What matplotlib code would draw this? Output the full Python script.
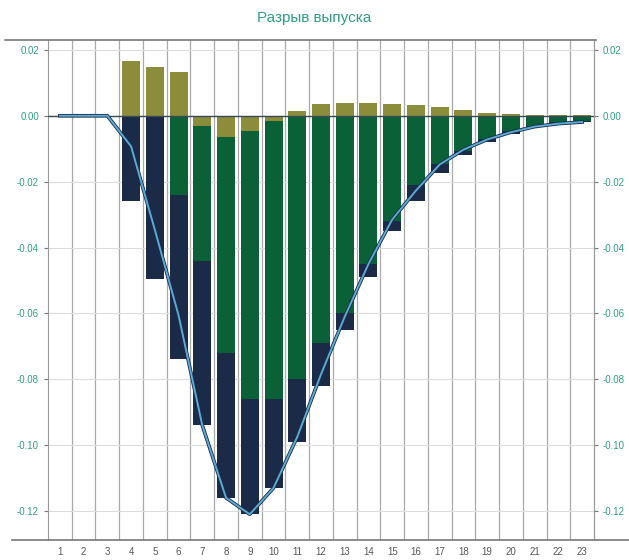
import matplotlib
matplotlib.use("Agg")
import matplotlib.pyplot as plt
import matplotlib.patheffects as pe
import numpy as np

# периоды
periods = list(range(1, 24))
# составляющие разрыва выпуска
comp_olive = [0, 0, 0, 0.0167, 0.0149, 0.0134, -0.003, -0.0065, -0.0045, -0.0015, 0.0015,
              0.0035, 0.004, 0.004, 0.0035, 0.0033, 0.0027, 0.0017, 0.0008, 0.0005, 0.0002, 0.0001, 0.0001]
comp_green = [0, 0, 0, 0, 0, -0.024, -0.041, -0.0655, -0.0815, -0.0845, -0.080,
              -0.069, -0.060, -0.045, -0.032, -0.021, -0.0145, -0.0107, -0.007, -0.0045, -0.003, -0.002, -0.0015]
comp_navy = [0, 0, 0, -0.026, -0.0495, -0.050, -0.050, -0.044, -0.035, -0.027, -0.019,
             -0.013, -0.005, -0.004, -0.003, -0.005, -0.003, -0.0013, -0.001, -0.001, -0.0005, -0.0005, -0.0005]
yticks = [0.02, 0.00, -0.02, -0.04, -0.06, -0.08, -0.10, -0.12]

c_olive = '#8b8d3a'
c_green = '#0b6137'
c_navy = '#1b2a47'
c_line = '#5aaad6'
c_text = '#2f9e84'

plt.rcParams['font.family'] = ['Liberation Sans', 'DejaVu Sans']

fig = plt.figure(figsize=(6.29, 5.6), dpi=100)
ax = fig.add_axes([48/629, 20/560, 546/629, 500/560])

x = np.array(periods)
pos_bottom = np.zeros(len(x))
neg_bottom = np.zeros(len(x))
for vals, col in [(comp_olive, c_olive), (comp_green, c_green), (comp_navy, c_navy)]:
    v = np.array(vals)
    bottom = np.where(v >= 0, pos_bottom, neg_bottom)
    ax.bar(x, v, bottom=bottom, width=0.76, color=col, edgecolor='none', zorder=3)
    pos_bottom += np.where(v >= 0, v, 0)
    neg_bottom += np.where(v < 0, v, 0)

total = np.array(comp_olive) + np.array(comp_green) + np.array(comp_navy)
ax.plot(x, total, color=c_line, lw=1.4, zorder=5,
        path_effects=[pe.Stroke(linewidth=2.6, foreground=c_navy), pe.Normal()])

ax.axhline(0, color='#3a4a55', lw=1.0, zorder=4)

ax.set_xlim(0.5, 23.5)
ax.set_ylim(-0.1288, 0.023)
ax.set_yticks(yticks)
ax.set_yticklabels(['%.2f' % t for t in yticks])
ax.set_xticks(x)
ax.set_xticks(np.arange(1.5, 23.5, 1), minor=True)
ax.grid(True, axis='x', which='minor', color='#a8a8a8', lw=0.9, zorder=1)
ax.grid(True, axis='y', which='major', color='#dcdcdc', lw=0.8, zorder=1)
ax.tick_params(axis='x', which='both', length=0, labelsize=7, colors='#555555', pad=5)
ax.tick_params(axis='y', length=3, labelsize=7, colors='#777777', labelcolor=c_text, direction='out')
for s in ['top', 'bottom']:
    ax.spines[s].set_visible(False)
for s in ['left', 'right']:
    ax.spines[s].set_color('#999999')

ax2 = ax.twinx()
ax2.set_ylim(ax.get_ylim())
ax2.set_yticks(yticks)
ax2.set_yticklabels(['%.2f' % t for t in yticks])
ax2.tick_params(axis='y', length=3, labelsize=7, colors='#777777', labelcolor=c_text)
for s in ['top', 'bottom', 'left']:
    ax2.spines[s].set_visible(False)
ax2.spines['right'].set_color('#999999')

# верхняя и нижняя линии рамки
fig.add_artist(plt.Line2D([5/629, 596/629], [1 - 40/560] * 2, color='#777777', lw=1.2))
fig.add_artist(plt.Line2D([12/629, 1.0], [1 - 540/560] * 2, color='#777777', lw=1.2))

fig.text(0.5, 1 - 18/560, 'Разрыв выпуска', ha='center', va='center', fontsize=11, color=c_text)

fig.savefig('out.png', dpi=100)
